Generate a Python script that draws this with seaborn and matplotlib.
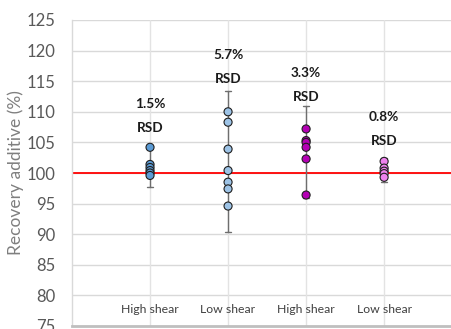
import matplotlib
matplotlib.use("Agg")
import matplotlib.pyplot as plt
import seaborn as sns
import pandas as pd

# Recovery of additive per mixing condition (%)
groups = ["HS-1", "LS-1", "HS-2", "LS-2"]
group_labels = ["High shear", "Low shear", "High shear", "Low shear"]
hs1_values = [104.2, 101.4, 100.9, 100.4, 100.0, 99.6]
ls1_values = [110.0, 108.3, 103.9, 100.4, 98.5, 97.4, 94.6]
hs2_values = [107.2, 105.3, 105.0, 104.2, 102.3, 96.4]
ls2_values = [101.9, 100.8, 100.3, 99.9, 99.3]
rsd_labels = ["1.5%", "5.7%", "3.3%", "0.8%"]
rsd_label_y = [111.3, 119.2, 116.3, 109.2]
colors = ["#5B9BD5", "#9DC3E6", "#B400B4", "#EE82EE"]
target = 100
yticks = list(range(75, 126, 5))

df = pd.DataFrame({
    "group": [groups[0]] * len(hs1_values) + [groups[1]] * len(ls1_values)
             + [groups[2]] * len(hs2_values) + [groups[3]] * len(ls2_values),
    "recovery": hs1_values + ls1_values + hs2_values + ls2_values,
})

sns.set_theme(style="white")
plt.rcParams["font.family"] = ["Lato", "DejaVu Sans"]

fig = plt.figure(figsize=(4.52, 3.29), dpi=100)
ax = fig.add_axes([72 / 452, 1 - 326 / 329, 1 - 72 / 452, 306 / 329])

# grid
for y in yticks:
    ax.axhline(y, color="#D9D9D9", lw=1.0, zorder=0)
for i in range(len(groups)):
    ax.axvline(i, color="#E3E3E3", lw=1.0, zorder=0)

ax.axhline(target, color="#FF0000", lw=1.3, zorder=1)

# mean +/- 2 SD whiskers
sns.pointplot(data=df, x="group", y="recovery", order=groups,
              errorbar=("sd", 2), capsize=0.08, color="#6E6E6E",
              marker="", linestyle="none",
              err_kws={"linewidth": 1.0, "color": "#6E6E6E"}, ax=ax, zorder=2)

sns.stripplot(data=df, x="group", y="recovery", order=groups, hue="group",
              hue_order=groups, palette=colors, jitter=False, size=5.8,
              edgecolor="#1F1F1F", linewidth=0.8, legend=False, ax=ax, zorder=3)

for i, (lab, ly) in enumerate(zip(rsd_labels, rsd_label_y)):
    ax.text(i, ly, lab, ha="center", va="center", fontsize=9.8,
            fontweight="bold", color="#1A1A1A")
    ax.text(i, ly - 3.9, "RSD", ha="center", va="center", fontsize=9.8,
            fontweight="bold", color="#1A1A1A")

for i, lab in enumerate(group_labels):
    ax.text(i, 77.7, lab, ha="center", va="center", fontsize=8.8,
            color="#404040")

ax.set_xlim(-1, 3.87)
ax.set_ylim(75, 125)
ax.set_yticks(yticks)
ax.set_xticks([])
ax.set_xlabel("")
ax.set_ylabel("Recovery additive (%)", fontsize=12.5, color="#7F7F7F",
              labelpad=2)
ax.tick_params(axis="y", labelsize=12, colors="#595959", length=0, pad=12)

for side in ["top", "right"]:
    ax.spines[side].set_visible(False)
ax.spines["left"].set_color("#D9D9D9")
ax.spines["left"].set_linewidth(1.0)
ax.spines["bottom"].set_color("#BFBFBF")
ax.spines["bottom"].set_linewidth(2.0)

fig.savefig("out.png", dpi=100)
